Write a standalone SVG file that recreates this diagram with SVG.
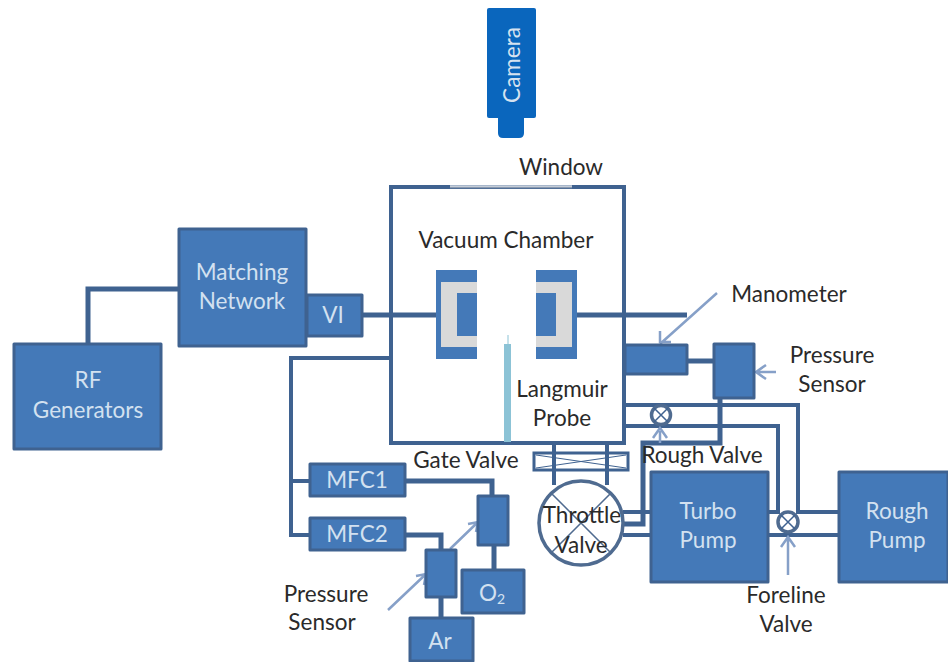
<svg xmlns="http://www.w3.org/2000/svg" width="948" height="662" viewBox="0 0 948 662">
<style>
.box{fill:#4479b8;stroke:#3f6290;stroke-width:3;stroke-linejoin:round}
.pipe{fill:none;stroke:#3f6290;stroke-width:5}
.thin{fill:none;stroke:#3f6290;stroke-width:4}
.arr{fill:none;stroke:#86a0c8;stroke-width:2.500}
.w{font:22.500px Lato,"Liberation Sans",sans-serif;fill:#d3e1f0;text-anchor:middle}
.k{font:22.500px Lato,"Liberation Sans",sans-serif;fill:#2a2a2a;text-anchor:middle}
</style>
<rect width="948" height="662" fill="#fff"/>
<g id="chamber"><rect x="391" y="187" width="233" height="256" fill="#fff" stroke="#3f6290" stroke-width="4"/><path d="M450 187H572" stroke="#8a9ab0" stroke-width="2.500"/><path d="M450 186H572" stroke="#fff" stroke-width="1"/></g>
<g id="connectors">
<path class="pipe" d="M88 343V289H178"/>
<path class="pipe" d="M362 315H436"/>
<path class="pipe" d="M577 315H687"/>
<path class="thin" d="M390 358H291V535H310M291 481H311"/>
<path class="pipe" d="M406 481H492V495M406 535H441V549M494 546V569M441 597V617"/>
<path class="pipe" d="M687 361H713"/>
<path class="thin" d="M624 405H798V512H838M624 426H778V512H768M768 535H838"/>
<path class="pipe" d="M720 398V443H643V524H623"/>
<path class="thin" d="M623 512H650M623 535H650M554 443V485M607 443V485"/>
<path class="arr" d="M717 293L660 344M671 342H660V331"/>
<path class="arr" d="M776 372H756M766 365L756 372L766 379"/>
<path class="arr" d="M660 443V431M653 438L660 428L667 438"/>
<path class="arr" d="M788 575V537M781 547L788 537L795 547"/>
<path class="arr" d="M388 610L426 574M416 576L426 574L424 585"/>
<path class="arr" d="M450 549L478 522M468 524L478 522L476 532"/>
</g>
<g id="camera"><rect x="487" y="8" width="49" height="110" rx="2" fill="#0a66bd"/><path d="M498 116H524V133Q524 138 519 138H503Q498 138 498 133Z" fill="#0a66bd"/><text class="w" transform="translate(520 65) rotate(-90)" style="fill:#d5e2f0">Camera</text></g>
<text class="k" x="561" y="175">Window</text>
<text class="k" x="506" y="248">Vacuum Chamber</text>
<g id="coil-left"><rect x="436" y="270" width="41" height="89" fill="#4479b8"/><rect x="441" y="282" width="36" height="65" fill="#d9d9d9"/><rect x="457" y="293" width="20" height="43" fill="#4479b8"/></g>
<g id="coil-right"><rect x="536" y="270" width="41" height="89" fill="#4479b8"/><rect x="536" y="282" width="36" height="65" fill="#d9d9d9"/><rect x="536" y="293" width="20" height="43" fill="#4479b8"/></g>
<g id="probe"><rect x="504" y="344" width="7" height="98" fill="#8cc3d6"/><path d="M508 335V344" stroke="#8cc3d6"/><text class="k" x="562" y="397">Langmuir</text><text class="k" x="562" y="426">Probe</text></g>
<g id="rf"><rect class="box" x="14" y="344" width="147" height="105"/><text class="w" x="88" y="388">RF</text><text class="w" x="88" y="418">Generators</text></g>
<g id="matching"><rect class="box" x="179" y="229" width="127" height="117"/><text class="w" x="242" y="280">Matching</text><text class="w" x="242" y="309">Network</text></g>
<g id="vi"><rect class="box" x="307" y="295" width="55" height="41"/><text class="w" x="333" y="323">VI</text></g>
<g id="manometer"><rect class="box" x="625" y="345" width="62" height="29"/><text class="k" x="789" y="302">Manometer</text></g>
<g id="sensor-top"><rect class="box" x="714" y="344" width="40" height="54"/><text class="k" x="832" y="363">Pressure</text><text class="k" x="832" y="392">Sensor</text></g>
<g id="rough-valve"><circle cx="661" cy="415" r="9.500" fill="#fff" stroke="#4f6b90" stroke-width="3.500"/><path d="M654 408L668 422M668 408L654 422" stroke="#3f6290" stroke-width="1.500"/><text class="k" x="702" y="463">Rough Valve</text></g>
<g id="gate"><rect x="534" y="453" width="94" height="17" fill="none" stroke="#3f6290" stroke-width="3"/><path d="M536 455L626 468M536 468L626 455" stroke="#3f6290" stroke-width="1"/><text class="k" x="466" y="468">Gate Valve</text></g>
<g id="throttle"><circle cx="581" cy="523" r="42" fill="#fff" stroke="#4f6b90" stroke-width="3.500"/><path d="M551 493L611 553M611 493L551 553" stroke="#4f6b90" stroke-width="1.500"/><text class="k" x="582" y="523">Throttle</text><text class="k" x="581" y="553">Valve</text></g>
<g id="turbo"><rect class="box" x="651" y="472" width="117" height="110"/><text class="w" x="708" y="519">Turbo</text><text class="w" x="708" y="548">Pump</text></g>
<g id="foreline"><circle cx="788" cy="522" r="10" fill="#fff" stroke="#4f6b90" stroke-width="3.500"/><path d="M781 515L795 529M795 515L781 529" stroke="#3f6290" stroke-width="1.500"/><text class="k" x="786" y="603">Foreline</text><text class="k" x="786" y="632">Valve</text></g>
<g id="roughpump"><rect class="box" x="839" y="472" width="109" height="110"/><text class="w" x="897" y="519">Rough</text><text class="w" x="897" y="548">Pump</text></g>
<g id="mfc1"><rect class="box" x="310" y="464" width="95" height="32"/><text class="w" x="357" y="488">MFC1</text></g>
<g id="mfc2"><rect class="box" x="310" y="518" width="95" height="32"/><text class="w" x="357" y="542">MFC2</text></g>
<g id="sensor-o2"><rect class="box" x="478" y="496" width="30" height="49"/></g>
<g id="sensor-ar"><rect class="box" x="426" y="550" width="30" height="47"/><text class="k" x="326" y="602">Pressure</text><text class="k" x="322" y="630">Sensor</text></g>
<g id="o2"><rect class="box" x="462" y="570" width="62" height="43"/><text class="w" x="492" y="601">O<tspan font-size="14" dy="3">2</tspan></text></g>
<g id="ar"><rect class="box" x="410" y="618" width="63" height="43"/><text class="w" x="440" y="649">Ar</text></g>
</svg>
